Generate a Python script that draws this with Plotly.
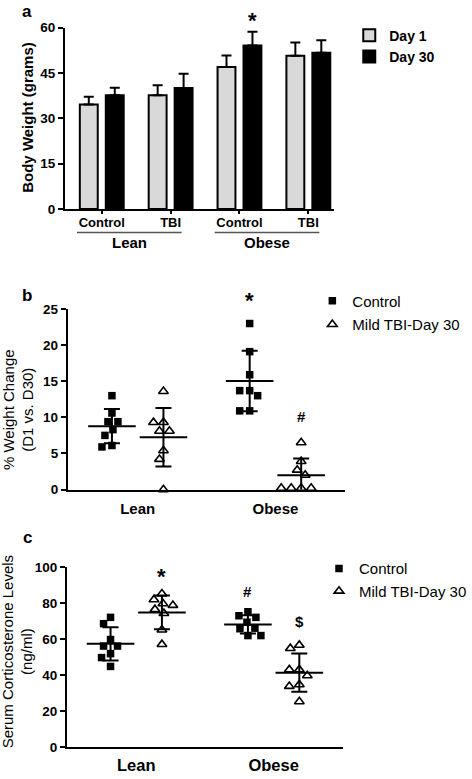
import numpy as np
import plotly.graph_objects as go

W, H = 472, 779
FONT = "Liberation Sans, Arial, sans-serif"

# ---------------- data ----------------
# panel a: body weight (grams)
groups_a = ["Lean", "Obese"]
treat_a = ["Control", "TBI", "Control", "TBI"]
day1_mean = [34.6, 37.6, 47.0, 50.7]
day1_err = [2.5, 3.3, 3.8, 4.4]
day30_mean = [37.6, 40.0, 54.1, 51.7]
day30_err = [2.5, 4.7, 4.5, 4.1]

# panel b: % weight change (D1 vs D30)
groups_bc = ["Lean", "Obese"]
lean_ctrl_b = [13.0, 10.6, 9.4, 9.4, 8.3, 7.5, 6.1, 5.9]
lean_tbi_b = [13.6, 9.3, 9.3, 8.1, 8.1, 5.4, 4.2, 0.0]
obese_ctrl_b = [23.0, 19.1, 15.9, 13.7, 13.7, 13.0, 10.9, 10.9]
obese_tbi_b = [6.5, 3.9, 2.7, 2.0, 0.2, 0.2, 0.2, 0.2]

# panel c: serum corticosterone (ng/ml)
lean_ctrl_c = [72.1, 68.6, 59.8, 56.2, 56.2, 52.0, 49.8, 44.9]
lean_tbi_c = [85.2, 81.9, 79.7, 78.8, 76.5, 74.3, 65.2, 57.1]
obese_ctrl_c = [75.2, 73.0, 72.1, 69.4, 66.1, 65.8, 62.0, 62.0]
obese_tbi_c = [56.7, 54.9, 43.1, 43.1, 39.8, 34.8, 33.9, 25.4]

# ---------------- layout geometry (pixels) ----------------
def px_dom_x(a, b):
    return [a / W, b / W]

def px_dom_y(top, bottom):
    return [1 - bottom / H, 1 - top / H]

A_X = (65, 335); A_Y = (21, 206)
B_X = (68, 346); B_Y = (308, 492)
C_X = (67, 344); C_Y = (571, 755)

A_RANGE = [-0.536, 3.377]
A_YR = [0, 60]
B_RANGE = [-0.507, 1.507]
C_RANGE = [-0.505, 1.507]
B_YR = [0, 25]
C_YR = [0, 100]
OFF = 0.187  # control / TBI offset within a group


def swarm(vals, ypx, d=9.5):
    """simple beeswarm: horizontal pixel offsets so markers do not overlap"""
    placed = []
    offs = [0.0] * len(vals)
    order = sorted(range(len(vals)), key=lambda i: -vals[i])
    cands = [0] + [s * k for k in range(1, 80) for s in (-1, 1)]
    for i in order:
        y = vals[i] * ypx
        for c in cands:
            if all((c - px) ** 2 + (y - py) ** 2 >= d * d for px, py in placed):
                break
        placed.append((c, y))
        offs[i] = c
    return offs


fig = go.Figure()

# ---------------- panel a ----------------
pos_a = list(range(len(treat_a)))
fig.add_trace(go.Bar(
    x=pos_a, y=day1_mean, name="Day 1", xaxis="x", yaxis="y",
    marker=dict(color="#d9d9d9", line=dict(color="black", width=2)),
    error_y=dict(type="data", symmetric=False, array=day1_err,
                 arrayminus=[0] * 4, color="black", thickness=2, width=5),
    legend="legend", legendgroup="d1",
))
fig.add_trace(go.Bar(
    x=pos_a, y=day30_mean, name="Day 30", xaxis="x", yaxis="y",
    marker=dict(color="black", line=dict(color="black", width=2)),
    error_y=dict(type="data", symmetric=False, array=day30_err,
                 arrayminus=[0] * 4, color="black", thickness=2, width=5),
    legend="legend", legendgroup="d30",
))


def dot_panel(xa, ya, ctrl_sets, tbi_sets, ypx, xpx, legname, show_leg):
    for gi, (ctrl, tbi) in enumerate(zip(ctrl_sets, tbi_sets)):
        for vals, sgn, is_ctrl in ((ctrl, -1, True), (tbi, 1, False)):
            cx = gi + sgn * OFF
            offs = swarm(vals, ypx)
            xs = [cx + o / xpx for o in offs]
            if is_ctrl:
                mk = dict(symbol="square", size=7.5, color="black")
                nm = "Control"
            else:
                mk = dict(symbol="triangle-up-open", size=8.5, color="black",
                          line=dict(width=1.6, color="black"))
                nm = "Mild TBI-Day 30"
            fig.add_trace(go.Scatter(
                x=xs, y=vals, mode="markers", marker=mk, name=nm,
                xaxis=xa, yaxis=ya, cliponaxis=False,
                showlegend=(show_leg and gi == 0), legend=legname,
                legendgroup=legname + nm,
            ))
            m = float(np.mean(vals)); sd = float(np.std(vals, ddof=1))
            fig.add_trace(go.Scatter(
                x=[cx], y=[m], mode="markers", xaxis=xa, yaxis=ya,
                marker=dict(symbol="line-ew", size=34, color="black",
                            line=dict(width=2, color="black")),
                error_y=dict(type="data", array=[sd], color="black",
                             thickness=2, width=8),
                showlegend=False, cliponaxis=False, hoverinfo="skip",
            ))


b_ypx = (B_Y[1] - B_Y[0]) / (B_YR[1] - B_YR[0])
b_xpx = (B_X[1] - B_X[0]) / (B_RANGE[1] - B_RANGE[0])
c_ypx = (C_Y[1] - C_Y[0]) / (C_YR[1] - C_YR[0])
c_xpx = (C_X[1] - C_X[0]) / (C_RANGE[1] - C_RANGE[0])

dot_panel("x2", "y2", [lean_ctrl_b, obese_ctrl_b], [lean_tbi_b, obese_tbi_b],
          b_ypx, b_xpx, "legend2", True)
dot_panel("x3", "y3", [lean_ctrl_c, obese_ctrl_c], [lean_tbi_c, obese_tbi_c],
          c_ypx, c_xpx, "legend3", True)

# ---------------- axes ----------------
tickfont = dict(family=FONT, size=13.5, color="black", weight="bold")
yax_common = dict(showline=True, linewidth=2, linecolor="black", ticks="outside",
                  ticklen=5, tickwidth=2, tickcolor="black", showgrid=False,
                  zeroline=False, tickfont=tickfont, fixedrange=True)
xax_common = dict(showline=True, linewidth=2, linecolor="black", showgrid=False,
                  zeroline=False, fixedrange=True)

fig.update_layout(
    xaxis=dict(domain=px_dom_x(*A_X), anchor="y", range=A_RANGE,
               tickvals=pos_a, ticktext=treat_a, ticks="outside", ticklen=3,
               tickwidth=1.5, tickcolor="black", ticklabelstandoff=-3,
               tickfont=dict(family=FONT, size=13, color="black", weight="bold"),
               **xax_common),
    yaxis=dict(domain=px_dom_y(*A_Y), anchor="x", range=A_YR,
               tickvals=[0, 15, 30, 45, 60], **yax_common),
    xaxis2=dict(domain=px_dom_x(*B_X), anchor="y2", range=B_RANGE,
                tickvals=[0, 1], ticktext=groups_bc, ticks="",
                ticklabelstandoff=4,
                tickfont=dict(family=FONT, size=15, color="black", weight="bold"),
                **xax_common),
    yaxis2=dict(domain=px_dom_y(*B_Y), anchor="x2", range=B_YR, dtick=5,
                **yax_common),
    xaxis3=dict(domain=px_dom_x(*C_X), anchor="y3", range=C_RANGE,
                tickvals=[0, 1], ticktext=groups_bc, ticks="",
                ticklabelstandoff=2,
                tickfont=dict(family=FONT, size=16.5, color="black", weight="bold"),
                **xax_common),
    yaxis3=dict(domain=px_dom_y(*C_Y), anchor="x3", range=C_YR, dtick=20,
                **yax_common),
    barmode="group", bargap=0.246, bargroupgap=0.31,
    width=W, height=H, margin=dict(l=0, r=0, t=0, b=0),
    plot_bgcolor="white", paper_bgcolor="white",
    font=dict(family=FONT, color="black"),
    legend=dict(x=350 / W, y=1 - 13 / H, xanchor="left", yanchor="top",
                font=dict(family=FONT, size=14, color="black", weight="bold"),
                traceorder="grouped", tracegroupgap=0, bgcolor="rgba(0,0,0,0)",
                itemwidth=30),
    legend2=dict(x=313 / W, y=1 - 283 / H, xanchor="left", yanchor="top",
                 font=dict(family=FONT, size=15, color="black"),
                 traceorder="grouped", tracegroupgap=1, bgcolor="rgba(0,0,0,0)",
                 itemwidth=30),
    legend3=dict(x=320 / W, y=1 - 556 / H, xanchor="left", yanchor="top",
                 font=dict(family=FONT, size=15, color="black"),
                 traceorder="grouped", tracegroupgap=0, bgcolor="rgba(0,0,0,0)",
                 itemwidth=30),
)

# ---------------- annotations & decorations ----------------
ann = []
shapes = []
def ptxt(text, xpx, ypx, size, bold=True, angle=0):
    ann.append(dict(text=text, x=xpx / W, y=1 - ypx / H, xref="paper",
                    yref="paper", showarrow=False, textangle=angle,
                    xanchor="center", yanchor="middle",
                    font=dict(family=FONT, size=size, color="black",
                              weight="bold" if bold else "normal")))

# panel letters
ptxt("a", 27, 5, 17)
ptxt("b", 27.5, 294, 17)
ptxt("c", 27.5, 541, 17)

# y titles
ptxt("Body Weight (grams)", 28, 112, 15, bold=True, angle=-90)
ptxt("% Weight Change<br>(D1 vs. D30)", 18, 410, 15, bold=False, angle=-90)
ptxt("Serum Corticosterone Levels<br>(ng/ml)", 17, 657, 15, bold=False, angle=-90)

# group brackets in panel a
for g, name in enumerate(groups_a):
    x0, x1 = 2 * g - 0.36, 2 * g + 1.16
    shapes.append(dict(type="line", xref="x", yref="paper", x0=x0, x1=x1,
                       y0=1 - 230 / H, y1=1 - 230 / H,
                       line=dict(color="#555555", width=1.5)))
    ann.append(dict(text=name, x=(x0 + x1) / 2, y=1 - 240 / H, xref="x",
                    yref="paper", showarrow=False, yanchor="middle",
                    font=dict(family=FONT, size=15, color="black", weight="bold")))

# significance marks (y given in data units, placed via axis-domain refs so
# they may sit above the top of the axis)
def mark(text, xa, ya, yr, x, y, size):
    ann.append(dict(text=text, x=x, y=(y - yr[0]) / (yr[1] - yr[0]),
                    xref=xa, yref=ya + " domain", showarrow=False,
                    yanchor="middle",
                    font=dict(family=FONT, size=size, color="black", weight="bold")))

mark("*", "x", "y", A_YR, 2 + OFF, 62.3, 22)
mark("*", "x2", "y2", B_YR, 1 - OFF, 26.2, 22)
mark("#", "x2", "y2", B_YR, 1 + OFF, 10.1, 15)
mark("*", "x3", "y3", C_YR, 0 + OFF, 94.6, 22)
mark("#", "x3", "y3", C_YR, 1 - OFF, 86.4, 15)
mark("$", "x3", "y3", C_YR, 1 + OFF, 69.7, 15)

fig.update_layout(annotations=ann, shapes=shapes)

fig.write_html("out.html",
               config={"displayModeBar": False, "staticPlot": False},
               post_script="document.body.style.margin='0px';"
                           "document.body.style.overflow='hidden';")
